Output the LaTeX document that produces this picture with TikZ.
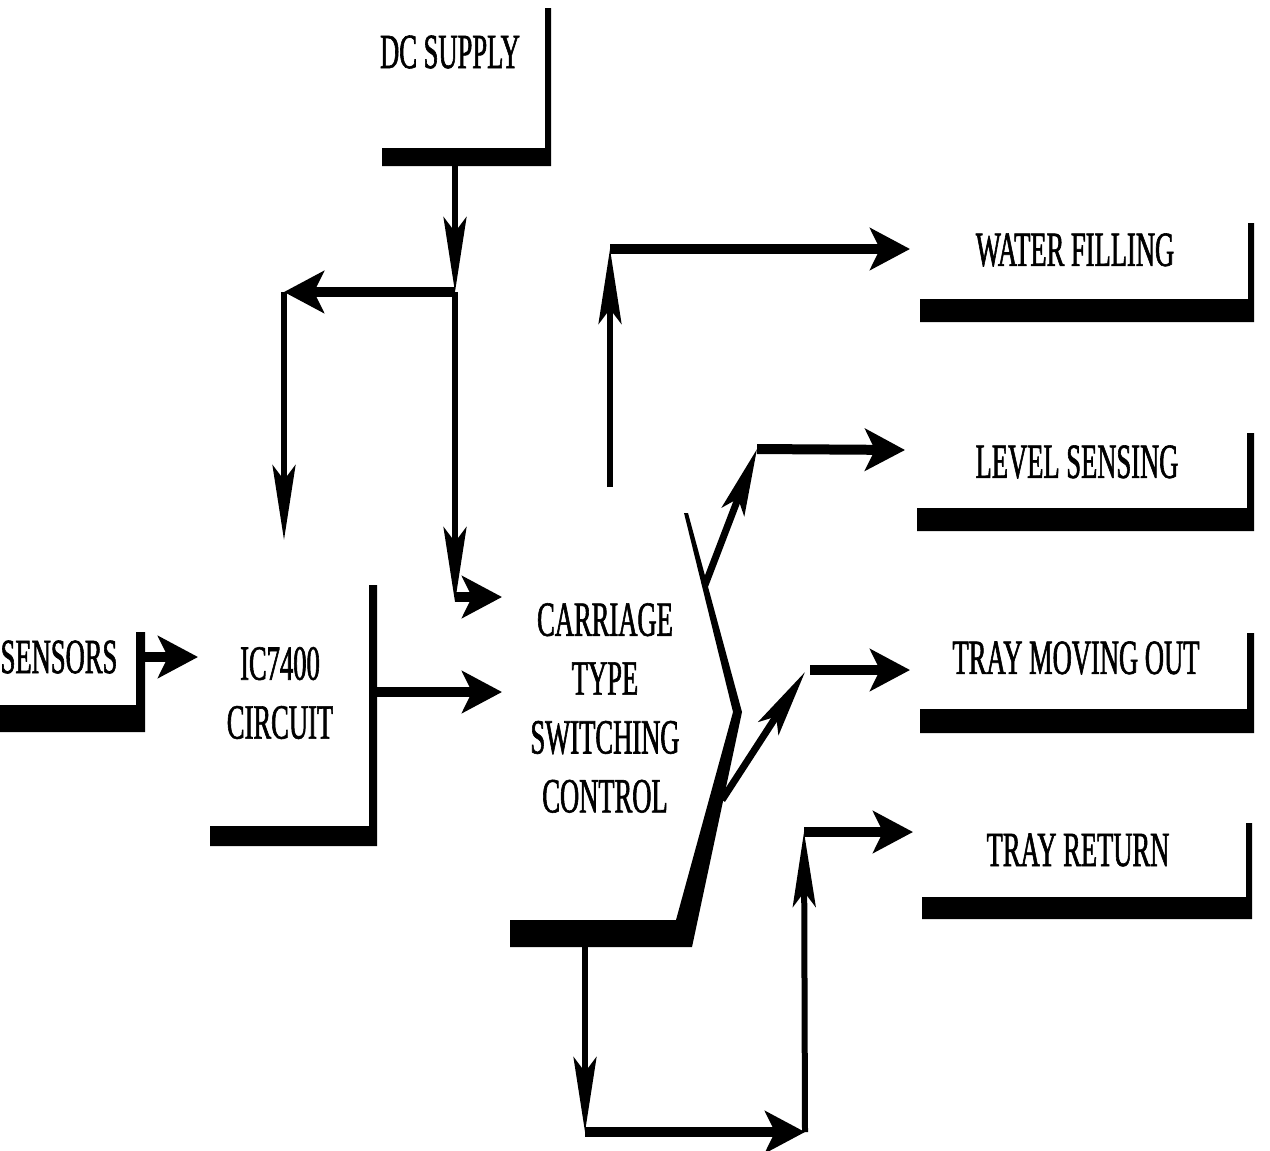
\documentclass[tikz,border=0pt]{standalone}
\usepackage{fontspec}
\setmainfont[FakeStretch=0.54, FakeBold=1.2]{Liberation Serif}
\usetikzlibrary{arrows.meta}

\tikzset{
  lbl/.style={font=\fontsize{28}{33.5}\selectfont, align=center, inner sep=2pt},
  hline/.style={line width=0.2cm},
  vline/.style={line width=0.12cm},
  dline/.style={line width=0.14cm},
  harrow/.style={-{Stealth[length=0.8cm, width=0.84cm, inset=0.2cm]}},
  varrow/.style={-{Stealth[length=1.5cm, width=0.46cm, inset=0.3cm]}},
  darrow/.style={-{Stealth[length=1.34cm, width=0.48cm, inset=0.28cm]}},
}

\begin{document}
\begin{tikzpicture}[x=0.02cm, y=-0.02cm]
    \useasboundingbox (0,0) rectangle (1270,1150);

    % ----------------------------------------------------
    % Blocks (text only, the box shows as its shadow)
    % ----------------------------------------------------
    \node[lbl] (dc)      at (450,52)   {DC SUPPLY};
    \node[lbl] (sensors) at (59,657)   {SENSORS};
    \node[lbl] (ic)      at (280,693)  {IC7400\\CIRCUIT};
    \node[lbl] (ctrl)    at (605,708)  {CARRIAGE\\TYPE\\SWITCHING\\CONTROL};
    \node[lbl] (water)   at (1075,250) {WATER FILLING};
    \node[lbl] (level)   at (1077,462) {LEVEL SENSING};
    \node[lbl] (trayout) at (1076,658) {TRAY MOVING OUT};
    \node[lbl] (trayret) at (1078,850) {TRAY RETURN};

    % shadows: left/right/top/bar top/bar bottom/edge width
    \foreach \l/\r/\t/\a/\b/\w in {382/551/8/148/166/6, 0/145/632/705/732/9,
                                   210/377/585/826/846/8, 920/1254/223/299/322/6,
                                   917/1254/433/508/531/7, 920/1254/633/709/733/7,
                                   922/1252/823/897/919/6}
        \fill ({\r-\w},\t) -- (\r,\t) -- (\r,\b) -- (\l,\b) -- (\l,\a) -- ({\r-\w},\a) -- cycle;

    % switching control: pointed right side
    \fill (684,513) -- (733,712) -- (676,920) -- (510,920) -- (510,947)
          -- (692,947) -- (742,712) -- (688,513) -- cycle;

    % ----------------------------------------------------
    % Ports and bends
    % ----------------------------------------------------
    \coordinate (dcout)  at (455,166);
    \coordinate (j1)     at (455,292);
    \coordinate (j2)     at (284,292);
    \coordinate (ictop)  at (284,540);
    \coordinate (j3)     at (455,602);
    \coordinate (cin1)   at (502,597);
    \coordinate (sout)   at (138,657);
    \coordinate (icin)   at (198,657);
    \coordinate (icout)  at (377,692);
    \coordinate (cin2)   at (502,692);
    \coordinate (ctop)   at (610,487);
    \coordinate (wbend)  at (610,249);
    \coordinate (win)    at (910,249);
    \coordinate (lbase)  at (705,585);
    \coordinate (lbend)  at (757,449);
    \coordinate (lin)    at (905,450);
    \coordinate (obase)  at (722,800);
    \coordinate (obend)  at (805,672);
    \coordinate (ostart) at (810,670);
    \coordinate (oin)    at (910,670);
    \coordinate (cbot)   at (585,947);
    \coordinate (b1)     at (585,1132);
    \coordinate (b2)     at (805,1132);
    \coordinate (b3)     at (804,832);
    \coordinate (rin)    at (913,832);

    % ----------------------------------------------------
    % Connectors
    % ----------------------------------------------------
    \draw[vline, varrow] (dcout) -- (j1);
    \draw[hline, harrow] (j1) -- (j2);
    \draw[vline, varrow] (j2) -- (ictop);
    \draw[vline, varrow] (j1) -- (j3);
    \draw[hline, harrow] (j3 |- cin1) -- (cin1);
    \draw[hline, harrow] (sout) -- (icin);
    \draw[hline, harrow] (icout) -- (cin2);

    \draw[vline, varrow] (ctop) -- (wbend);
    \draw[hline, harrow] (wbend) -- (win);
    \draw[dline, darrow] (lbase) -- (lbend);
    \draw[hline, harrow] (lbend) -- (lin);
    \draw[dline, darrow] (obase) -- (obend);
    \draw[hline, harrow] (ostart) -- (oin);

    \draw[vline, varrow] (cbot) -- (b1);
    \draw[hline, harrow] (b1) -- (b2);
    \draw[vline, varrow] (b2 |- b1) -- (b3);
    \draw[hline, harrow] (b3) -- (rin);
\end{tikzpicture}
\end{document}
